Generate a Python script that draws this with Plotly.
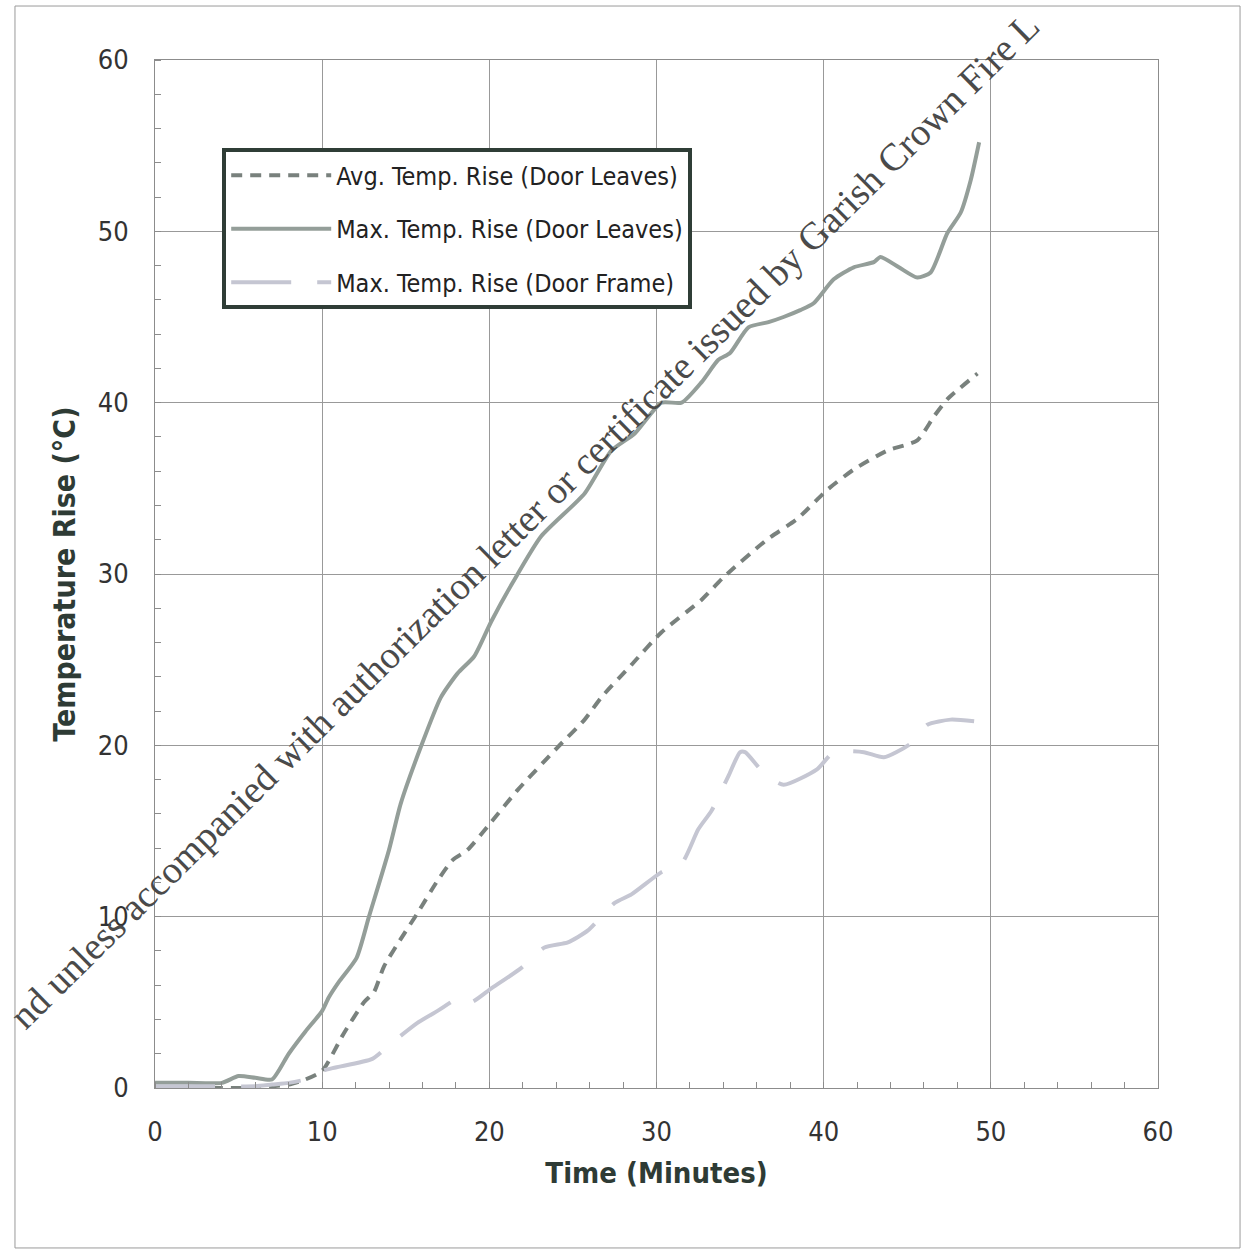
import plotly.graph_objects as go

# ---- data ----
t_max_leaves = [0, 2, 4, 5, 6, 7, 8, 9, 10, 10.4, 11, 12.06, 12.8, 14, 14.7, 15.9, 17.1, 18.1, 19.1, 20.1,
                21.4, 23.1, 25.7, 27.3, 28.7, 30.3, 31.5, 32.7, 33.7, 34.4, 35.5, 36.7, 37.6, 38.6,
                39.4, 40.6, 41.8, 43.0, 43.4, 44.5, 45.6, 46.4, 47.4, 48.2, 48.8, 49.3]
v_max_leaves = [0.3, 0.3, 0.3, 0.7, 0.6, 0.5, 2.0, 3.3, 4.5, 5.3, 6.2, 7.6, 10.0, 13.9, 16.6, 19.9, 22.8, 24.2, 25.2, 27.2,
                29.5, 32.2, 34.7, 37.2, 38.2, 40.0, 40.0, 41.2, 42.5, 42.9, 44.4, 44.7, 45.0, 45.4,
                45.8, 47.2, 47.9, 48.2, 48.5, 47.9, 47.3, 47.6, 49.9, 51.1, 53.0, 55.2]

t_avg_leaves = [0, 2, 4, 6, 7, 8, 9, 10, 11.3, 12.5, 13.1, 13.7, 14.9, 15.7, 16.9, 17.8, 18.7, 20.1, 21.7, 24.1,
                25.7, 26.7, 28.5, 30.3, 32.7, 34.0, 36.6, 38.4, 40.2, 41.8, 43.8, 45.6, 46.6, 47.4, 49.2]
v_avg_leaves = [0.0, 0.0, 0.0, 0.0, 0.1, 0.2, 0.5, 1.0, 3.2, 5.0, 5.6, 7.1, 9.0, 10.2, 12.1, 13.3, 13.9, 15.5, 17.4, 19.9,
                21.5, 22.8, 24.7, 26.6, 28.5, 29.8, 32.0, 33.2, 34.9, 36.1, 37.2, 37.8, 39.2, 40.2, 41.7]

t_max_frame = [0, 2, 4, 6, 7, 8, 9, 10, 10.8, 13.0, 14.0, 15.7, 16.9, 18.3, 18.9, 20.1, 21.9, 23.3, 24.7, 25.9,
               27.5, 28.5, 30.3, 31.5, 32.5, 33.3, 34.3, 35.0, 35.3, 36.5, 37.6, 39.6, 40.6, 42.4, 43.6,
               45.2, 46.2, 47.6, 49.0]
v_max_frame = [0.1, 0.1, 0.1, 0.1, 0.2, 0.3, 0.5, 1.0, 1.2, 1.7, 2.5, 3.8, 4.5, 5.3, 5.0, 5.8, 7.0, 8.2, 8.5, 9.2,
               10.8, 11.3, 12.6, 13.1, 15.1, 16.2, 18.2, 19.6, 19.6, 18.3, 17.7, 18.6, 19.6, 19.6, 19.3,
               20.1, 21.2, 21.5, 21.4]

series_names = ["Avg. Temp. Rise (Door Leaves)", "Max. Temp. Rise (Door Leaves)", "Max. Temp. Rise (Door Frame)"]
tick_vals = [0, 10, 20, 30, 40, 50, 60]

NARROW = "Liberation Sans Narrow, Arial Narrow, DejaVu Sans Condensed, sans-serif"
INK = "#2e3b35"

fig = go.Figure()
fig.add_trace(go.Scatter(x=t_avg_leaves, y=v_avg_leaves, name=series_names[0], mode="lines",
                         line=dict(color="#79817d", width=4, dash="11px,8px", shape="spline", smoothing=0.6),
                         legendgroup="a"))
fig.add_trace(go.Scatter(x=t_max_leaves, y=v_max_leaves, name=series_names[1], mode="lines",
                         line=dict(color="#949e99", width=4, shape="spline", smoothing=0.6),
                         legendgroup="b"))
fig.add_trace(go.Scatter(x=t_max_frame, y=v_max_frame, name=series_names[2], mode="lines",
                         line=dict(color="#c5c6d2", width=4, dash="60px,26px", shape="spline", smoothing=0.6),
                         legendgroup="c"))

axis_common = dict(
    range=[0, 60], tickvals=tick_vals, showgrid=True, gridcolor="#999999", gridwidth=1,
    showline=True, linecolor="#8c8c8c", linewidth=1, mirror=True, zeroline=False,
    ticks="", tickfont=dict(family=NARROW, size=27, color="#333333"),
    minor=dict(dtick=2, ticks="inside", ticklen=6, tickcolor="#8c8c8c", showgrid=False),
)

fig.update_layout(
    width=1249, height=1249,
    margin=dict(l=155, r=91, t=60, b=161),
    paper_bgcolor="white", plot_bgcolor="white",
    xaxis=dict(**axis_common, ticklabelstandoff=20,
               title=dict(text="<b>Time (Minutes)</b>", font=dict(family=NARROW, size=29, color=INK), standoff=16)),
    yaxis=dict(**axis_common, ticklabelstandoff=20,
               title=dict(text="<b>Temperature Rise (°C)</b>", font=dict(family=NARROW, size=30, color=INK), standoff=13)),
    showlegend=True,
    legend=dict(x=0.067, y=0.914, xanchor="left", yanchor="top",
                bgcolor="white", bordercolor="#2f3d36", borderwidth=4,
                font=dict(family=NARROW, size=25, color="#222222"),
                itemwidth=100, tracegroupgap=18, traceorder="grouped"),
)

# outer scanned-page frame
fig.add_shape(type="rect", xref="paper", yref="paper",
              x0=-0.1396, x1=1.0818, y0=-0.1556, y1=1.0525,
              line=dict(color="#9a9a9a", width=1), fillcolor="rgba(0,0,0,0)", layer="below")

# diagonal watermark
fig.add_annotation(xref="paper", yref="paper", x=0.368, y=0.5516, showarrow=False,
                   text="nd unless accompanied with authorization letter or certificate issued by Garish Crown Fire L",
                   textangle=-44.6,
                   font=dict(family="Liberation Serif, DejaVu Serif, serif", size=38.5, color="#4a4a4a"))

fig.write_html("out.html")
